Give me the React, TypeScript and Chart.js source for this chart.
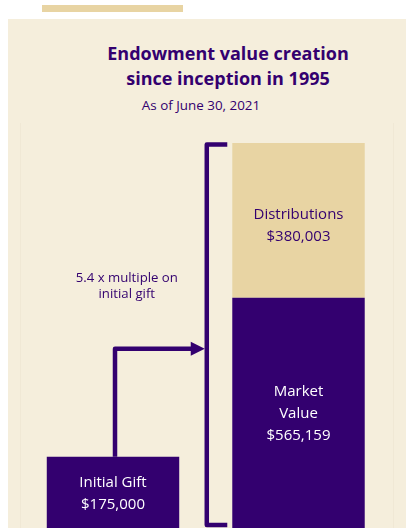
import React, { useEffect, useRef } from "react";
import { Chart, registerables } from "chart.js";

Chart.register(...registerables);

// ---- Data ----
const categories = ["Initial Gift", "June 30, 2021"];
const seriesNames = ["Initial Gift", "Market Value", "Distributions"];
const initialGift = [175000, null];
const marketValue = [null, 565159];
const distributions = [null, 380003];
const titleLines = ["Endowment value creation", "since inception in 1995"];
const subtitleText = "As of June 30, 2021";
const multipleLines = ["x multiple on", "initial gift"];

const PURPLE = "#33006f";
const GOLD = "#e8d4a3";
const BEIGE = "#f5eedc";
const FONT = "'Open Sans', 'Noto Sans', sans-serif";

const fmt = (v: number) => "$" + v.toLocaleString("en-US");

const annotationPlugin = {
  id: "annotations",
  afterDatasetsDraw(chart: any) {
    const ctx = chart.ctx as CanvasRenderingContext2D;
    const yScale = chart.scales.y;
    ctx.save();
    ctx.textAlign = "center";
    ctx.textBaseline = "middle";

    // labels inside bars
    const labelSets: { lines: (v: number) => string[]; color: string }[] = [
      { lines: (v) => ["Initial Gift", fmt(v)], color: "#ffffff" },
      { lines: (v) => ["Market", "Value", fmt(v)], color: "#ffffff" },
      { lines: (v) => ["Distributions", fmt(v)], color: PURPLE },
    ];
    const dsArr = [initialGift, marketValue, distributions];
    dsArr.forEach((data, di) => {
      const meta = chart.getDatasetMeta(di);
      data.forEach((v, i) => {
        if (v == null) return;
        const el: any = meta.data[i];
        const lines = labelSets[di].lines(v);
        const lh = 22;
        const cy = (el.y + el.base) / 2 + (di === 2 ? 5 : 1);
        ctx.fillStyle = labelSets[di].color;
        ctx.font = `15px ${FONT}`;
        lines.forEach((t, k) => {
          ctx.fillText(t, el.x, cy + (k - (lines.length - 1) / 2) * lh);
        });
      });
    });

    // bracket around stacked bar
    const mvEl: any = chart.getDatasetMeta(1).data[1];
    const dEl: any = chart.getDatasetMeta(2).data[1];
    const barLeft = dEl.x - dEl.width / 2;
    const topY = dEl.y + 1.5;
    const botY = mvEl.base - 3;
    const bx = barLeft - 25.5;
    ctx.strokeStyle = PURPLE;
    ctx.lineWidth = 4.5;
    ctx.lineJoin = "round";
    ctx.beginPath();
    ctx.moveTo(barLeft - 5, topY);
    ctx.lineTo(bx, topY);
    ctx.lineTo(bx, botY);
    ctx.lineTo(barLeft - 5, botY);
    ctx.stroke();

    // arrow from initial gift to bracket
    const gEl: any = chart.getDatasetMeta(0).data[0];
    const ax = gEl.x + 2;
    const ay = yScale.getPixelForValue(440000);
    const tipX = bx - 2;
    const headLen = 14;
    ctx.beginPath();
    ctx.moveTo(ax, gEl.y);
    ctx.lineTo(ax, ay);
    ctx.lineTo(tipX - headLen + 1, ay);
    ctx.stroke();
    ctx.fillStyle = PURPLE;
    ctx.beginPath();
    ctx.moveTo(tipX, ay);
    ctx.lineTo(tipX - headLen, ay - 7);
    ctx.lineTo(tipX - headLen, ay + 7);
    ctx.closePath();
    ctx.fill();

    // multiple annotation
    const total = (marketValue[1] as number) + (distributions[1] as number);
    const mult = (total / (initialGift[0] as number)).toFixed(1);
    const gLeft = gEl.x - gEl.width / 2;
    const mx = (gLeft + bx) / 2;
    const my = yScale.getPixelForValue(594000);
    ctx.fillStyle = PURPLE;
    ctx.font = `13.2px ${FONT}`;
    const mLines = [`${mult} ${multipleLines[0]}`, multipleLines[1]];
    mLines.forEach((t, k) => {
      ctx.fillText(t, mx, my + (k - 0.5) * 16.5);
    });
    ctx.restore();
  },
};

export default function App() {
  const canvasRef = useRef<HTMLCanvasElement | null>(null);

  useEffect(() => {
    if (!canvasRef.current) return;
    const total = (marketValue[1] as number) + (distributions[1] as number);
    const chart = new Chart(canvasRef.current, {
      type: "bar",
      data: {
        labels: categories,
        datasets: [
          { label: seriesNames[0], data: initialGift, backgroundColor: PURPLE, borderWidth: 0 },
          { label: seriesNames[1], data: marketValue, backgroundColor: PURPLE, borderWidth: 0 },
          { label: seriesNames[2], data: distributions, backgroundColor: GOLD, borderWidth: 0 },
        ],
      },
      options: {
        animation: false,
        responsive: false,
        maintainAspectRatio: false,
        layout: { padding: { top: 124, bottom: 0, left: 12.25, right: 14.75 } },
        datasets: { bar: { barPercentage: 1, categoryPercentage: 0.714 } } as any,
        plugins: {
          legend: { display: false },
          title: { display: false },
          tooltip: { enabled: false },
        },
        scales: {
          x: { stacked: true, display: false },
          y: { stacked: true, display: false, min: 0, max: total },
        },
      },
      plugins: [annotationPlugin],
    });
    return () => chart.destroy();
  }, []);

  return (
    <div
      style={{
        position: "fixed",
        left: 0,
        top: 0,
        width: 406,
        height: 528,
        background: "#ffffff",
        overflow: "hidden",
      }}
    >
      <div
        style={{
          position: "absolute",
          left: 42,
          top: 5,
          width: 141,
          height: 7,
          background: GOLD,
        }}
      />
      <div
        style={{
          position: "absolute",
          left: 8,
          top: 19,
          width: 398,
          height: 509,
          background: BEIGE,
          overflow: "hidden",
        }}
      >
        <div
          style={{
            position: "absolute",
            left: 12,
            top: 104,
            width: 372,
            height: 420,
            borderLeft: "1px solid #f0e8d5",
            borderRight: "1px solid #f0e8d5",
          }}
        />
        <div
          style={{
            position: "absolute",
            left: 20,
            top: 21.5,
            width: 400,
            textAlign: "center",
            fontFamily: FONT,
            fontWeight: 700,
            fontSize: 18,
            lineHeight: "25px",
            color: PURPLE,
          }}
        >
          {titleLines.map((t) => (
            <div key={t}>{t}</div>
          ))}
        </div>
        <div
          style={{
            position: "absolute",
            left: -7,
            top: 77.5,
            width: 400,
            textAlign: "center",
            fontFamily: FONT,
            fontSize: 13.4,
            lineHeight: "17px",
            color: PURPLE,
          }}
        >
          {subtitleText}
        </div>
        <canvas
          ref={canvasRef}
          width={398}
          height={509}
          style={{ position: "absolute", left: 0, top: 0, width: 398, height: 509 }}
        />
      </div>
    </div>
  );
}
